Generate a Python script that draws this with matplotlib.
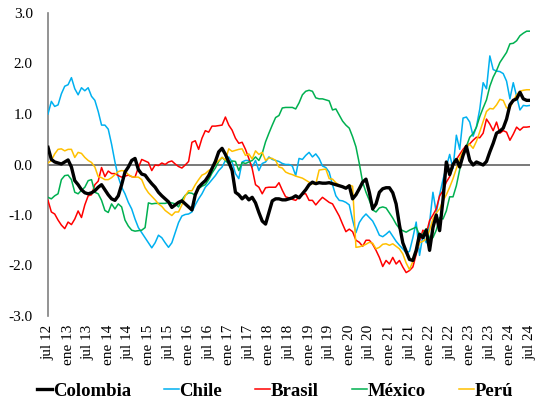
import matplotlib
matplotlib.use("Agg")
import matplotlib.pyplot as plt
import numpy as np

plt.rcParams['font.family'] = ['Liberation Serif', 'DejaVu Serif']

# Monthly index values, jul 2012 .. jul 2024 (145 months)
colombia = [
    0.34, 0.10, 0.05, 0.03, 0.01, 0.05, 0.09, -0.05, -0.32, -0.40, -0.50, -0.56,
    -0.58, -0.56, -0.52, -0.45, -0.40, -0.50, -0.60, -0.68, -0.71, -0.62, -0.40, -0.15,
    -0.05, 0.08, 0.12, -0.10, -0.19, -0.21, -0.30, -0.38, -0.45, -0.55, -0.62, -0.68,
    -0.74, -0.85, -0.80, -0.75, -0.72, -0.78, -0.84, -0.90, -0.60, -0.45, -0.38, -0.32,
    -0.22, -0.08, 0.06, 0.25, 0.32, 0.20, 0.05, -0.12, -0.55, -0.60, -0.68, -0.62,
    -0.70, -0.65, -0.76, -0.95, -1.12, -1.18, -0.95, -0.72, -0.68, -0.68, -0.70, -0.70,
    -0.68, -0.66, -0.62, -0.66, -0.58, -0.50, -0.40, -0.35, -0.38, -0.36, -0.37, -0.37,
    -0.36, -0.38, -0.40, -0.42, -0.44, -0.47, -0.42, -0.68, -0.60, -0.48, -0.35, -0.29,
    -0.55, -0.88, -0.78, -0.55, -0.48, -0.46, -0.46, -0.56, -0.78, -1.20, -1.55, -1.72,
    -1.88, -1.90, -1.70, -1.38, -1.45, -1.30, -1.70, -1.25, -1.00, -1.31, -0.70, 0.05,
    -0.20, 0.00, 0.10, -0.05, 0.18, 0.36, 0.08, -0.01, 0.05, 0.02, -0.01, 0.06,
    0.25, 0.42, 0.62, 0.66, 0.72, 0.90, 1.18, 1.27, 1.30, 1.43, 1.30, 1.27,
    1.27,
]
chile = [
    1.00, 1.25, 1.15, 1.18, 1.40, 1.55, 1.58, 1.72, 1.50, 1.38, 1.52, 1.46,
    1.52, 1.35, 1.27, 1.05, 0.78, 0.78, 0.70, 0.40, 0.05, -0.25, -0.45, -0.58,
    -0.75, -0.88, -1.08, -1.25, -1.35, -1.45, -1.55, -1.65, -1.55, -1.40, -1.45, -1.55,
    -1.64, -1.55, -1.35, -1.15, -1.02, -0.99, -0.98, -0.94, -0.80, -0.68, -0.58, -0.45,
    -0.38, -0.30, -0.22, -0.12, -0.05, 0.08, 0.15, 0.05, -0.18, -0.28, 0.05, 0.08,
    0.08, -0.05, 0.08, -0.12, 0.02, 0.05, 0.15, 0.10, 0.08, 0.06, 0.02, 0.00,
    0.00, -0.03, -0.22, 0.12, 0.10, 0.18, 0.24, 0.15, 0.21, 0.12, -0.03, -0.06,
    -0.15, -0.40, -0.62, -0.71, -0.72, -0.75, -0.80, -1.10, -1.35, -1.15, -1.05, -0.98,
    -1.05, -1.12, -1.25, -1.40, -1.43, -1.38, -1.32, -1.42, -1.52, -1.60, -1.67, -1.75,
    -1.72, -1.45, -1.14, -1.80, -1.40, -1.55, -1.15, -0.55, -0.95, -0.60, -0.30, -0.05,
    0.20, -0.08, 0.58, 0.30, 0.92, 0.94, 0.84, 0.56, 0.75, 1.10, 1.62, 1.50,
    2.15, 1.88, 1.85, 1.84, 1.80, 1.65, 1.30, 1.62, 1.35, 1.08, 1.17, 1.16,
    1.17,
]
brasil = [
    -0.71, -0.94, -0.98, -1.10, -1.20, -1.27, -1.14, -1.19, -1.08, -0.92, -1.05, -0.80,
    -0.62, -0.60, -0.40, -0.33, -0.06, -0.24, -0.13, -0.18, -0.18, -0.22, -0.25, -0.23,
    -0.21, -0.24, -0.25, -0.06, 0.10, 0.07, 0.04, -0.12, -0.01, -0.02, 0.03, 0.00,
    0.05, 0.07, 0.01, -0.04, -0.07, -0.01, 0.06, 0.44, 0.47, 0.30, 0.52, 0.67,
    0.64, 0.76, 0.76, 0.77, 0.78, 0.94, 0.78, 0.68, 0.52, 0.42, 0.44, 0.30,
    0.12, -0.08, -0.40, -0.45, -0.58, -0.46, -0.45, -0.45, -0.45, -0.36, -0.51, -0.64,
    -0.66, -0.69, -0.71, -0.64, -0.58, -0.58, -0.71, -0.71, -0.80, -0.72, -0.65, -0.70,
    -0.75, -0.78, -0.90, -1.02, -1.18, -1.33, -1.28, -1.33, -1.50, -1.54, -1.62, -1.50,
    -1.50, -1.58, -1.70, -1.84, -2.02, -1.90, -1.97, -1.84, -1.97, -1.90, -2.03, -2.14,
    -2.10, -2.03, -1.78, -1.52, -1.30, -1.37, -1.11, -1.00, -0.88, -0.62, -0.52, -0.35,
    -0.24, -0.02, 0.10, 0.20, 0.30, 0.38, 0.41, 0.48, 0.54, 0.53, 0.62, 0.90,
    0.80, 0.67, 0.84, 0.62, 0.67, 0.64, 0.48, 0.60, 0.74, 0.68, 0.74, 0.74,
    0.75,
]
mexico = [
    -0.65, -0.68, -0.62, -0.58, -0.30, -0.22, -0.21, -0.30, -0.55, -0.58, -0.51, -0.45,
    -0.32, -0.30, -0.55, -0.58, -0.71, -0.91, -0.95, -0.78, -0.88, -0.78, -0.84, -1.10,
    -1.22, -1.30, -1.32, -1.31, -1.30, -1.25, -0.76, -0.78, -0.77, -0.77, -0.77, -0.77,
    -0.75, -0.76, -0.78, -0.84, -0.70, -0.61, -0.56, -0.57, -0.61, -0.48, -0.43, -0.40,
    -0.30, -0.17, -0.07, 0.06, 0.14, 0.08, 0.01, 0.07, 0.06, -0.12, 0.04, 0.02,
    0.05, 0.08, 0.15, 0.08, 0.22, 0.45, 0.62, 0.78, 0.93, 0.97, 1.12, 1.13,
    1.13, 1.13, 1.10, 1.22, 1.38, 1.45, 1.47, 1.45, 1.32, 1.30, 1.30, 1.28,
    1.26, 1.08, 1.10, 0.98, 0.86, 0.78, 0.72, 0.55, 0.35, 0.02, -0.35, -0.55,
    -0.71, -0.90, -0.94, -0.86, -0.84, -0.86, -0.96, -1.06, -1.18, -1.27, -1.31, -1.34,
    -1.30, -1.27, -1.24, -1.40, -1.38, -1.27, -1.46, -1.45, -1.30, -1.05, -1.08, -0.92,
    -0.64, -0.64, -0.42, -0.10, 0.18, 0.36, 0.54, 0.61, 0.74, 0.95, 1.12, 1.28,
    1.55, 1.73, 1.86, 2.02, 2.12, 2.22, 2.39, 2.40, 2.45, 2.55, 2.60, 2.64,
    2.64,
]
peru = [
    0.03, 0.08, 0.21, 0.30, 0.31, 0.27, 0.30, 0.30, 0.14, 0.24, 0.22, 0.14,
    0.08, 0.04, -0.05, -0.24, -0.26, -0.30, -0.30, -0.26, -0.20, -0.14, -0.12, -0.13,
    -0.20, -0.24, -0.25, -0.25, -0.30, -0.46, -0.56, -0.63, -0.70, -0.78, -0.83, -0.91,
    -0.96, -1.01, -0.94, -0.94, -0.80, -0.62, -0.52, -0.52, -0.40, -0.30, -0.21, -0.18,
    -0.12, -0.08, 0.01, 0.08, 0.14, 0.09, 0.31, 0.26, 0.28, 0.30, 0.31, 0.18,
    0.21, 0.11, 0.27, 0.20, 0.24, 0.08, 0.13, 0.12, 0.08, -0.05, -0.07, -0.15,
    -0.18, -0.20, -0.23, -0.25, -0.27, -0.31, -0.35, -0.38, -0.39, -0.11, -0.10, -0.09,
    -0.28, -0.29, -0.36, -0.41, -0.44, -0.45, -0.41, -0.43, -1.64, -1.63, -1.61, -1.58,
    -1.54, -1.56, -1.67, -1.64, -1.58, -1.57, -1.60, -1.57, -1.62, -1.67, -1.77, -1.95,
    -2.08, -1.92, -1.70, -1.55, -1.52, -1.48, -1.30, -1.08, -0.96, -0.88, -0.72, -0.60,
    -0.45, -0.28, -0.08, 0.12, 0.26, 0.34, 0.40, 0.32, 0.46, 0.65, 0.85, 1.05,
    1.11, 1.10, 1.18, 1.29, 1.27, 1.12, 1.12, 1.26, 1.38, 1.45, 1.47, 1.48,
    1.48,
]

tick_labels = ["jul 12", "ene 13", "jul 13", "ene 14", "jul 14", "ene 15", "jul 15",
               "ene 16", "jul 16", "ene 17", "jul 17", "ene 18", "jul 18", "ene 19",
               "jul 19", "ene 20", "jul 20", "ene 21", "jul 21", "ene 22", "jul 22",
               "ene 23", "jul 23", "ene 24", "jul 24"]
y_ticks = [-3.0, -2.0, -1.0, 0.0, 1.0, 2.0, 3.0]

series = [
    ("Colombia", colombia, "#000000", 2.4),
    ("Chile", chile, "#00B0F0", 1.1),
    ("Brasil", brasil, "#FF0000", 1.1),
    ("México", mexico, "#00B050", 1.1),
    ("Perú", peru, "#FFC000", 1.1),
]

fig = plt.figure(figsize=(5.38, 4.04), dpi=100)
ax = fig.add_axes([48 / 538, 1 - 316 / 404, (530 - 48) / 538, (316 - 13) / 404])

months = np.arange(len(colombia))
ax.axhline(0, color="#6E6E6E", lw=1.3, zorder=1)
handles = []
for name, vals, color, lw in series:
    (h,) = ax.plot(months, vals, color=color, lw=lw, label=name, zorder=3,
                   solid_joinstyle="round")
    handles.append(h)
# keep Colombia on top
handles[0].set_zorder(5)

ax.set_xlim(0, len(colombia) - 1)
ax.set_ylim(-3, 3)
ax.set_xticks(np.arange(0, len(colombia), 6))
ax.set_xticklabels(tick_labels, rotation=90, fontsize=11)
ax.set_yticks(y_ticks)
ax.set_yticklabels([f"{v:.1f}" for v in y_ticks], fontsize=11)
ax.tick_params(axis="both", length=0, colors="#000000")
ax.tick_params(axis="y", pad=11)
ax.tick_params(axis="x", pad=6)

for s in ["top", "right", "bottom"]:
    ax.spines[s].set_visible(False)
ax.spines["left"].set_color("#808080")
ax.spines["left"].set_linewidth(1.2)

leg = fig.legend(handles=handles, loc="center", bbox_to_anchor=(275 / 538, 1 - 391 / 404),
                 ncol=5, frameon=False, handlelength=0.8, handletextpad=0.05,
                 columnspacing=1.75, prop={"weight": "bold", "size": 13.5})

fig.savefig("out.png", dpi=100)
